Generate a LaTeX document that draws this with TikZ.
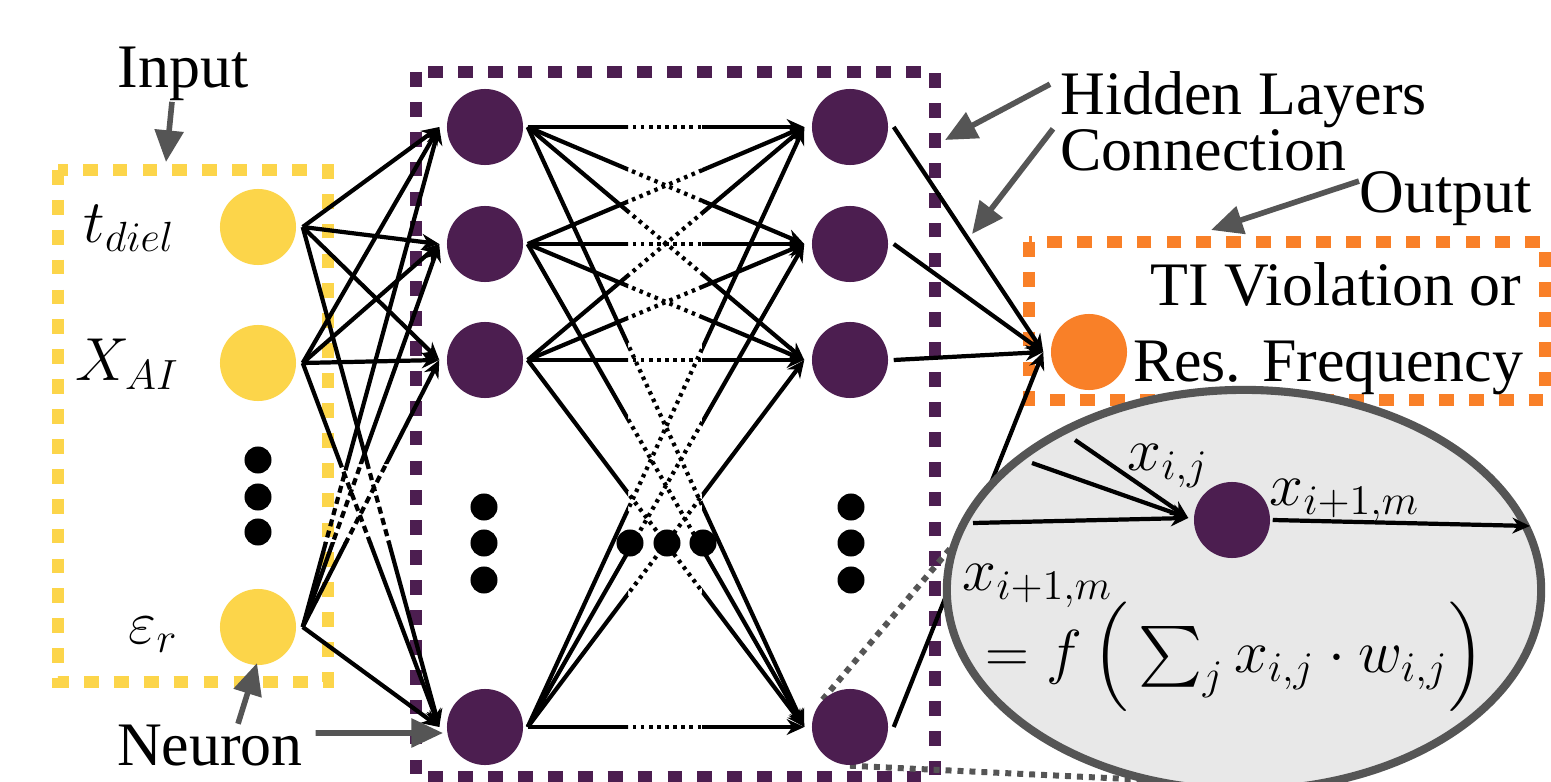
\documentclass[tikz,border=0pt]{standalone}
\usepackage{amsmath}
\usepackage[no-math]{fontspec}
\setmainfont{Liberation Serif}
\usetikzlibrary{arrows.meta,shapes.geometric}
\definecolor{nyellow}{RGB}{252,213,74}
\definecolor{npurple}{RGB}{76,30,80}
\definecolor{norange}{RGB}{249,128,40}
\definecolor{ngray}{RGB}{85,85,85}
\definecolor{lensfill}{RGB}{232,232,232}
\pgfdeclarelayer{bgfill}
\pgfdeclarelayer{boxes}
\pgfdeclarelayer{lines}
\pgfsetlayers{bgfill,boxes,lines,main}
\begin{document}
\begin{tikzpicture}[x=0.01cm,y=-0.01cm,
  neuron/.style={circle,inner sep=0pt,minimum size=0.76cm},
  dotn/.style={circle,fill=black,inner sep=0pt,minimum size=0.27cm},
  boxline/.style={line width=3.5pt,dash pattern=on 4.2pt off 4.3pt},
  conn/.style={line width=1.2pt,draw=black},
  tip/.style={-{Stealth[length=5pt,width=4.5pt]}},
  dotseg/.style={line width=1.2pt,dash pattern=on 1pt off 1.3pt},
  dashseg/.style={line width=1.2pt,dash pattern=on 2pt off 1.3pt},
  annot/.style={draw=ngray,line width=1.6pt,-{Triangle[length=9pt,width=8pt]}},
  lensline/.style={draw=ngray,line width=1.7pt,dash pattern=on 1.7pt off 1.7pt},
  txt/.style={font=\fontsize{17.6}{18}\selectfont,inner sep=0pt},
  mth/.style={font=\fontsize{18}{20}\selectfont,inner sep=0pt}]

\begin{pgfonlayer}{bgfill}
\fill[white] (0,0) rectangle (1551,782);
\end{pgfonlayer}
\useasboundingbox (0,0) rectangle (1551,782);

% dotted boxes
\begin{pgfonlayer}{boxes}
\draw[boxline,nyellow] (58,170) rectangle (328,682);
\draw[boxline,npurple] (416,72) rectangle (935,777);
\draw[boxline,norange] (1029,242) rectangle (1545,400);
\end{pgfonlayer}

% neurons
\node[neuron,fill=nyellow] (in1) at (258,227) {};
\node[neuron,fill=nyellow] (in2) at (258,363) {};
\node[neuron,fill=nyellow] (in3) at (258,627) {};
\node[dotn] (ind1) at (258,460) {};
\node[dotn] (ind2) at (258,497) {};
\node[dotn] (ind3) at (258,532) {};

\foreach \k/\yy in {1/127,2/244,3/360,4/727}{
  \node[neuron,fill=npurple] (h\k) at (485,\yy) {};
  \node[neuron,fill=npurple] (r\k) at (850,\yy) {};
}
\node[dotn] (hd1) at (484,507) {};
\node[dotn] (hd2) at (484,543) {};
\node[dotn] (hd3) at (484,580) {};
\node[dotn] (rd1) at (851,507) {};
\node[dotn] (rd2) at (851,543) {};
\node[dotn] (rd3) at (851,580) {};
\node[dotn] (md1) at (630,543) {};
\node[dotn] (md2) at (667,543) {};
\node[dotn] (md3) at (703,543) {};

\node[neuron,fill=norange] (out) at (1089,352) {};

% connection points
\foreach \a in {1,2,3}{ \path (in\a.east) ++(6,0) coordinate (io\a); }
\foreach \k in {1,2,3,4}{
  \path (h\k.west) ++(-7,0) coordinate (hi\k);
  \path (h\k.east) ++(4,0) coordinate (ho\k);
  \path (r\k.west) ++(-7,0) coordinate (ri\k);
  \path (r\k.east) ++(5,0) coordinate (ro\k);
}
\path (out.west) ++(-7,0) coordinate (oin);
\coordinate (lensA) at (960,537);
\coordinate (lensB) at (1150,780);

\begin{pgfonlayer}{lines}
% input -> hidden
\begin{scope}
  \clip (0,0) rectangle (1551,464) (0,542) rectangle (1551,782);
  \foreach \a in {1,2,3}{\foreach \b in {1,2,3,4}{\draw[conn,tip] (io\a) -- (hi\b);}}
\end{scope}
\begin{scope}
  \clip (0,464) rectangle (1551,542);
  \foreach \a in {1,2,3}{\foreach \b in {1,2,3,4}{\draw[dashseg] (io\a) -- (hi\b);}}
\end{scope}
% hidden -> hidden
\begin{scope}
  \clip (0,0) rectangle (628,782) (702,0) rectangle (1551,782);
  \foreach \a in {1,2,3,4}{\foreach \b in {1,2,3,4}{\draw[conn,tip] (ho\a) -- (ri\b);}}
\end{scope}
\begin{scope}
  \clip (628,0) rectangle (702,782);
  \foreach \a in {1,2,3,4}{\foreach \b in {1,2,3,4}{\draw[dotseg] (ho\a) -- (ri\b);}}
\end{scope}
% hidden -> output
\foreach \b in {1,2,3,4}{\draw[conn,tip] (ro\b) -- (oin);}
% lens lines
\draw[lensline] (r4.135) -- (lensA);
\draw[lensline] (r4.south) -- (lensB);
\end{pgfonlayer}

% magnifier
\node[ellipse,draw=ngray,line width=2.3pt,fill=lensfill,inner sep=0pt,
      minimum width=5.94cm,minimum height=4cm] (lens) at (1244,590) {};
\node[neuron,fill=npurple] (ln) at (1232,520) {};
\path (ln.west) ++(-5,-2) coordinate (lnin);
\path (ln.east) ++(2,0) coordinate (lnout);
\coordinate (le1) at (1075,440);
\coordinate (le2) at (1032,463);
\coordinate (le3) at (973,523);
\coordinate (lend) at (1530,526);
\draw[conn,tip] (le1) -- (lnin);
\draw[conn,tip] (le2) -- (lnin);
\draw[conn,tip] (le3) -- (lnin);
\draw[conn,tip] (lnout) -- (lend);
\node[mth,anchor=base west] (lxij) at (1127,470) {$x_{i,j}$};
\node[mth,anchor=base west] (lxim) at (1269,505) {$x_{i+1,m}$};
\node[mth,anchor=base west] (f1) at (962,590) {$x_{i+1,m}$};
\node[mth,anchor=base west] (f2) at (985,672) {$=f\left(\vcenter{\hbox{\rule{0pt}{33pt}}}\sum_j x_{i,j}\cdot w_{i,j}\right)$};

% input labels
\node[mth,anchor=base west] (lt) at (83,242) {$t_{diel}$};
\node[mth,anchor=base west] (lx) at (75,380) {$X_{AI}$};
\node[mth,anchor=base west] (le) at (128,643) {$\varepsilon_r$};

% text labels
\node[txt,anchor=base] (lblin) at (183,88) {Input};
\node[txt,anchor=base] (lblneu) at (210,765) {Neuron};
\node[txt,anchor=base west] (lblhid) at (1060,115) {Hidden Layers};
\node[txt,anchor=base west] (lblcon) at (1060,171) {Connection};
\node[txt,anchor=base west] (lblout) at (1359,213) {Output};
\node[txt,anchor=base east] (lblti) at (1522,305) {TI Violation or};
\node[txt,anchor=base east] (lblres) at (1524,382) {Res. Frequency};

% annotation arrows
\coordinate (aIn) at (166,162);
\coordinate (aN1) at (257,663);
\coordinate (aN2) at (443,733);
\coordinate (aH) at (945,140);
\coordinate (aC) at (972,234);
\coordinate (aO) at (1211,230);
\draw[annot] (lblin.south -| 172,0) -- (aIn);
\draw[annot] (lblneu.north -| 238,0) -- (aN1);
\draw[annot] (lblneu.east) ++(12,-12) -- (aN2);
\draw[annot] (lblhid.west) ++(-10,-16) -- (aH);
\draw[annot] (lblcon.west) ++(-7,-22) -- (aC);
\draw[annot] (lblout.west) ++(0,-18) -- (aO);
\end{tikzpicture}
\end{document}
